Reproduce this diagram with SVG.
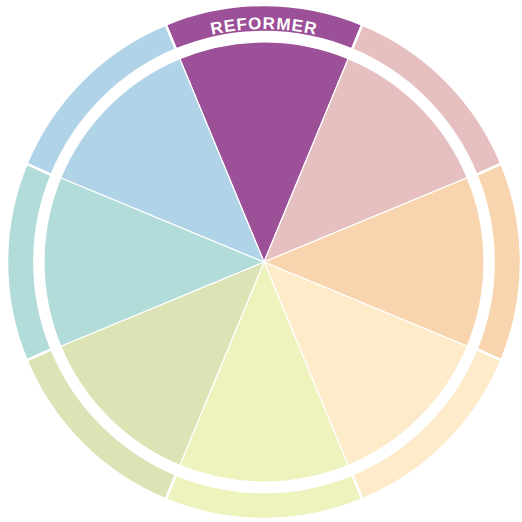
<svg xmlns="http://www.w3.org/2000/svg" width="522" height="522" viewBox="0 0 522 522">
<style>
.band{stroke:#fff;stroke-width:2.5;stroke-linejoin:miter}
.pie{stroke:#fff;stroke-width:1.2;stroke-linejoin:round}
.c1{fill:#9c5098}.c2{fill:#e6c0c0}.c3{fill:#f8d5ae}.c4{fill:#fdebc9}
.c5{fill:#eef2bd}.c6{fill:#dce3b5}.c7{fill:#b2dcda}.c8{fill:#b0d3e8}
.lbl{font-family:"Liberation Sans",Arial,sans-serif;font-weight:bold;font-size:17px;fill:#fff;letter-spacing:1px}
</style>
<defs>
<path id="arcText" d="M147.5,60.2 A233,233 0 0,1 380.5,60.2"/>
</defs>
<rect width="522" height="522" fill="#fff"/>
<g id="reformer">
<path class="band c1" d="M165.65,24.56 A257,257 0 0,1 362.35,24.56 L352.02,49.51 A230,230 0 0,0 175.98,49.51 Z"/>
<path class="pie c1" d="M264,262 L179.81,58.75 A220,220 0 0,1 348.19,58.75 Z"/>
<text class="lbl"><textPath href="#arcText" startOffset="50%" text-anchor="middle">REFORMER</textPath></text>
</g>
<g id="seg2">
<path class="band c2" d="M362.35,24.56 A257,257 0 0,1 501.44,163.65 L476.49,174.98 A230,230 0 0,0 352.02,49.51 Z"/>
<path class="pie c2" d="M264,262 L348.19,58.75 A220,220 0 0,1 467.25,177.81 Z"/>
</g>
<g id="seg3">
<path class="band c3" d="M501.44,163.65 A257,257 0 0,1 501.44,360.35 L476.49,349.02 A230,230 0 0,0 476.49,174.98 Z"/>
<path class="pie c3" d="M264,262 L467.25,177.81 A220,220 0 0,1 467.25,346.19 Z"/>
</g>
<g id="seg4">
<path class="band c4" d="M501.44,360.35 A257,257 0 0,1 362.35,499.44 L352.02,474.49 A230,230 0 0,0 476.49,349.02 Z"/>
<path class="pie c4" d="M264,262 L467.25,346.19 A220,220 0 0,1 348.19,465.25 Z"/>
</g>
<g id="seg5">
<path class="band c5" d="M362.35,499.44 A257,257 0 0,1 165.65,499.44 L175.98,474.49 A230,230 0 0,0 352.02,474.49 Z"/>
<path class="pie c5" d="M264,262 L348.19,465.25 A220,220 0 0,1 179.81,465.25 Z"/>
</g>
<g id="seg6">
<path class="band c6" d="M165.65,499.44 A257,257 0 0,1 26.56,360.35 L51.51,349.02 A230,230 0 0,0 175.98,474.49 Z"/>
<path class="pie c6" d="M264,262 L179.81,465.25 A220,220 0 0,1 60.75,346.19 Z"/>
</g>
<g id="seg7">
<path class="band c7" d="M26.56,360.35 A257,257 0 0,1 26.56,163.65 L51.51,174.98 A230,230 0 0,0 51.51,349.02 Z"/>
<path class="pie c7" d="M264,262 L60.75,346.19 A220,220 0 0,1 60.75,177.81 Z"/>
</g>
<g id="seg8">
<path class="band c8" d="M26.56,163.65 A257,257 0 0,1 165.65,24.56 L175.98,49.51 A230,230 0 0,0 51.51,174.98 Z"/>
<path class="pie c8" d="M264,262 L60.75,177.81 A220,220 0 0,1 179.81,58.75 Z"/>
</g>
</svg>
